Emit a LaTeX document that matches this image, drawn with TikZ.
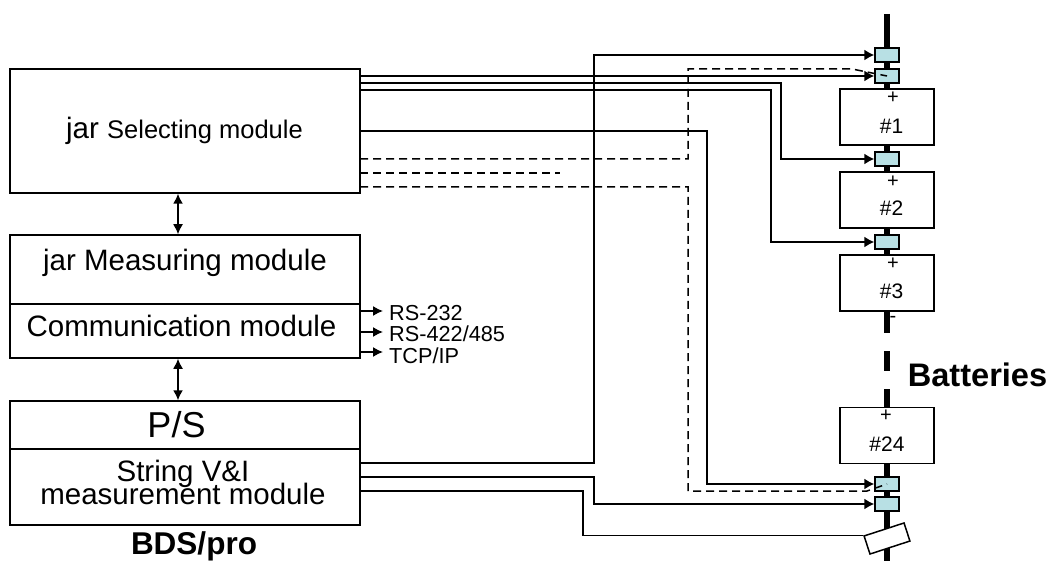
\documentclass[tikz,border=0pt]{standalone}
\usepackage{fontspec}
\setmainfont{Liberation Sans}
\usetikzlibrary{arrows.meta}
\definecolor{swfill}{RGB}{184,224,228}
\tikzset{
  modbox/.style={draw,line width=1.5pt,fill=white,inner sep=0pt,minimum width=350pt},
  modlabel/.style={inner sep=0pt,align=center,font=\fontsize{29.5}{23}\selectfont},
  batbox/.style={draw,line width=1.5pt,fill=white,inner sep=0pt,minimum width=94pt,minimum height=56pt},
  batlabel/.style={inner sep=0pt,font=\fontsize{21}{21}\selectfont},
  swbox/.style={draw,line width=1.5pt,fill=swfill,inner sep=0pt,minimum width=24pt,minimum height=14pt},
  wire/.style={line width=1.5pt},
  dwire/.style={line width=1.5pt,dash pattern=on 8pt off 5pt},
  tip/.style={-{Latex[length=10pt,width=11pt]}},
  smalltip/.style={-{Latex[length=10pt,width=10pt]}},
  dbltip/.style={{Latex[length=10pt,width=10pt]}-{Latex[length=10pt,width=10pt]}},
  bus/.style={line width=6pt},
  signlabel/.style={inner sep=0pt,font=\fontsize{20}{20}\selectfont},
  commlabel/.style={anchor=west,inner sep=0pt,font=\fontsize{21.7}{21.7}\selectfont},
  titlelabel/.style={inner sep=0pt,font=\bfseries\fontsize{32.6}{32.6}\selectfont}
}
\begin{document}
\begin{tikzpicture}[x=1pt,y=-1pt]
  \useasboundingbox (0,0) rectangle (1057,561);
  % Battery string
  \draw[bus] (887,14) -- (887,333);
  \draw[bus] (887,351) -- (887,371);
  \draw[bus] (887,389) -- (887,561);
  % Left hand modules
  \node[modbox,minimum height=124pt] (sel) at (185,131) {};
  \node[modbox,minimum height=69pt] (meas) at (185,269.5) {};
  \node[modbox,minimum height=54pt] (comm) at (185,331) {};
  \node[modbox,minimum height=48pt] (ps) at (185,425) {};
  \node[modbox,minimum height=76pt] (vi) at (185,487) {};
  \node[modlabel] (seltxt) at (184.5,131) {jar \fontsize{25.5}{25.5}\selectfont Selecting module};
  \node[modlabel] (meastxt) at (185,263) {jar Measuring module};
  \node[modlabel] (commtxt) at (181.5,326) {Communication module};
  \node[modlabel,font=\fontsize{36}{36}\selectfont] (pstxt) at (176.5,425) {P/S};
  \node[modlabel] (vitxt) at (183,482.5) {String V\&I\\[-6pt]measurement module};
  \node[titlelabel,font=\bfseries\fontsize{31.5}{31.5}\selectfont] (bds) at (194,546) {BDS/pro};
  % Batteries
  \foreach \name/\y/\tx/\ty/\txt in {batA/117/891.5/126/\#1, batB/200/891.5/208/\#2, batC/283/891.5/291/\#3, batD/435.5/887/444/\#24}{
    \node[batbox] (\name) at (887,\y) {};
    \node[batlabel] (\name txt) at (\tx,\ty) {\txt};
  }
  \node[signlabel] (plusA) at (893,98) {+};
  \node[signlabel] (plusB) at (893,182) {+};
  \node[signlabel] (plusC) at (893,264) {+};
  \node[signlabel] (plusD) at (886,416) {+};
  \node[signlabel] (minusC) at (893,319) {-};
  \node[titlelabel] (batt) at (977.5,375) {Batteries};
  % Sensing taps
  \foreach \name/\y in {swA/55, swB/76, swC/159, swD/242, swE/484, swF/504}
    \node[swbox] (\name) at (887,\y) {};
  \node[draw,line width=1.5pt,fill=white,minimum width=42pt,minimum height=19pt,inner sep=0pt,rotate=18] (shunt) at (887,538.5) {};
  % Solid wires from the selecting module
  \coordinate (selA) at (360,76);
  \coordinate (selB) at (360,83);
  \coordinate (selC) at (360,90);
  \coordinate (selD) at (360,131);
  \draw[wire,tip] (selA) -- (swB.west);
  \draw[wire,tip] (selB) -- (781,83) |- (swC.west);
  \draw[wire,tip] (selC) -- (771,90) |- (swD.west);
  \draw[wire,tip] (selD) -- (707,131) |- (swE.west);
  % Dashed wires from the selecting module
  \coordinate (selE) at (360,159);
  \coordinate (selF) at (360,173);
  \coordinate (selG) at (360,187);
  \coordinate (selFend) at (560,173);
  \draw[dwire] (selE) -- (688,159) -- (688,69) -- (852,69) -- (swB.center);
  \draw[dwire] (selF) -- (selFend);
  \draw[dwire] (selG) -- (688,187) -- (688,491) -- (867,491) -- (swE.center);
  % Wires from the measurement module
  \coordinate (viA) at (360,463);
  \coordinate (viB) at (360,477);
  \coordinate (viC) at (360,491);
  \draw[wire,tip] (viA) -- (594,463) |- (swA.west);
  \draw[wire,tip] (viB) -- (594,477) |- (swF.west);
  \draw[wire] (viC) -- (583,491) |- (shunt.north west);
  % Links between modules
  \draw[wire,dbltip] ([xshift=-7pt]sel.south) -- ([xshift=-7pt]meas.north);
  \draw[wire,dbltip] ([xshift=-7pt]comm.south) -- ([xshift=-7pt]ps.north);
  % Serial ports
  \foreach \name/\y/\ty/\txt in {rsA/311/313/RS-232, rsB/332/334/{RS-422/485}, rsC/352/356/{TCP/IP}}{
    \coordinate (\name) at (360,\y);
    \node[commlabel] (\name txt) at (389,\ty) {\txt};
    \draw[wire,smalltip] (\name) -- (383,\y);
  }
\end{tikzpicture}
\end{document}
